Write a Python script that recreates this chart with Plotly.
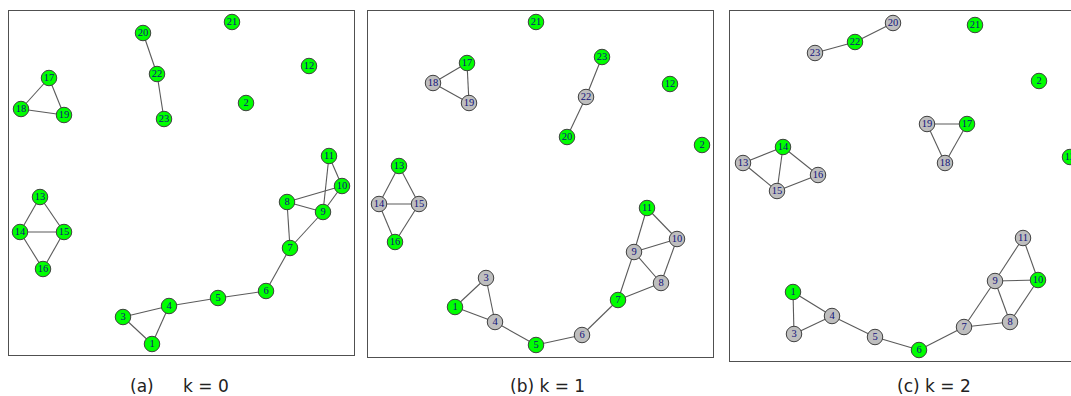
import plotly.graph_objects as go

W, H = 1071, 396

node_ids = list(range(1, 24))

# node layout coordinates for each panel (local units, y grows downward)
xa = [143, 237, 114, 160, 209, 257, 281, 278, 314, 333, 320, 300, 31, 11, 55, 34, 40, 12, 55, 134, 223, 148, 155]
ya = [333, 92, 306, 295, 287, 280, 237, 191, 201, 175, 145, 55, 186, 221, 221, 258, 67, 98, 104, 22, 11, 63, 108]

xb = [87, 334, 118, 127, 168, 214, 250, 293, 266, 309, 279, 302, 31, 11, 51, 27, 99, 65, 101, 199, 168, 218, 234]
yb = [296, 134, 267, 311, 334, 324, 289, 272, 241, 228, 197, 73, 155, 193, 193, 231, 52, 72, 92, 126, 11, 86, 46]

xc = [63, 309, 64, 102, 145, 189, 234, 280, 265, 308, 293, 340, 13, 53, 47, 88, 237, 215, 197, 163, 245, 125, 85]
yc = [281, 70, 323, 305, 326, 339, 316, 311, 270, 269, 227, 146, 152, 136, 180, 164, 113, 152, 113, 12, 14, 31, 42]

edges = [(20, 22), (22, 23), (17, 18), (17, 19), (18, 19),
         (13, 14), (13, 15), (14, 15), (14, 16), (15, 16),
         (11, 9), (11, 10), (9, 10), (9, 8), (10, 8), (8, 7), (9, 7),
         (7, 6), (6, 5), (5, 4), (4, 3), (4, 1), (3, 1)]

green_a = set(node_ids)
green_b = {1, 2, 5, 7, 11, 12, 13, 16, 17, 20, 21, 23}
green_c = {1, 2, 6, 10, 12, 14, 17, 21, 22}

captions = ["(a)", "k = 0", "(b) k = 1", "(c) k = 2"]

GREEN = "#00FF00"
GREY = "#BEBEBE"

# panel boxes in pixels: left, top, right, bottom, local x-range, local y-range
panels = [
    dict(x=xa, y=ya, green=green_a, box=(9, 11, 354, 355), xr=345, yr=344, full=True),
    dict(x=xb, y=yb, green=green_b, box=(368, 11, 713, 357), xr=345, yr=346, full=True),
    dict(x=xc, y=yc, green=green_c, box=(730, 11, 1071, 361), xr=341, yr=350, full=False),
]

fig = go.Figure()
layout = dict()
for i, p in enumerate(panels):
    ax = "" if i == 0 else str(i + 1)
    xref, yref = "x" + ax, "y" + ax
    ex, ey = [], []
    for a, b in edges:
        ex += [p["x"][a - 1], p["x"][b - 1], None]
        ey += [p["y"][a - 1], p["y"][b - 1], None]
    fig.add_trace(go.Scatter(x=ex, y=ey, mode="lines", xaxis=xref, yaxis=yref,
                             line=dict(color="#5a5a5a", width=1.1), hoverinfo="skip",
                             showlegend=False, cliponaxis=True))
    cols = [GREEN if n in p["green"] else GREY for n in node_ids]
    fig.add_trace(go.Scatter(x=p["x"], y=p["y"], mode="markers+text", xaxis=xref, yaxis=yref,
                             text=[str(n) for n in node_ids], textposition="middle center",
                             textfont=dict(family="Liberation Serif", size=10.5, color="#10107a"),
                             marker=dict(size=15.5, color=cols, line=dict(color="#404040", width=1)),
                             showlegend=False, cliponaxis=True))
    l, t, r, b = p["box"]
    layout["xaxis" + ax] = dict(domain=[l / W, r / W], range=[0, p["xr"]], visible=True,
                                showgrid=False, zeroline=False, showticklabels=False, ticks="",
                                showline=True, mirror=True, linecolor="#505050", linewidth=1.3,
                                anchor=yref, fixedrange=True)
    layout["yaxis" + ax] = dict(domain=[1 - b / H, 1 - t / H], range=[p["yr"], 0],
                                showgrid=False, zeroline=False, showticklabels=False, ticks="",
                                showline=True, mirror=p["full"], linecolor="#505050", linewidth=1.3,
                                anchor=xref, fixedrange=True)

fig.update_layout(**layout)

cap_x = [142, 206, 547, 934]
for txt, cx in zip(captions, cap_x):
    fig.add_annotation(text=txt, x=cx / W, y=1 - 386 / H, xref="paper", yref="paper",
                       xanchor="center", yanchor="middle", showarrow=False,
                       font=dict(family="DejaVu Sans", size=17, color="#222222"))

fig.update_layout(width=W, height=H, margin=dict(l=0, r=0, t=0, b=0),
                  paper_bgcolor="white", plot_bgcolor="white")

fig.write_html("out.html", config={"displayModeBar": False},
               post_script="document.body.style.margin='0';document.body.style.overflow='hidden';")
